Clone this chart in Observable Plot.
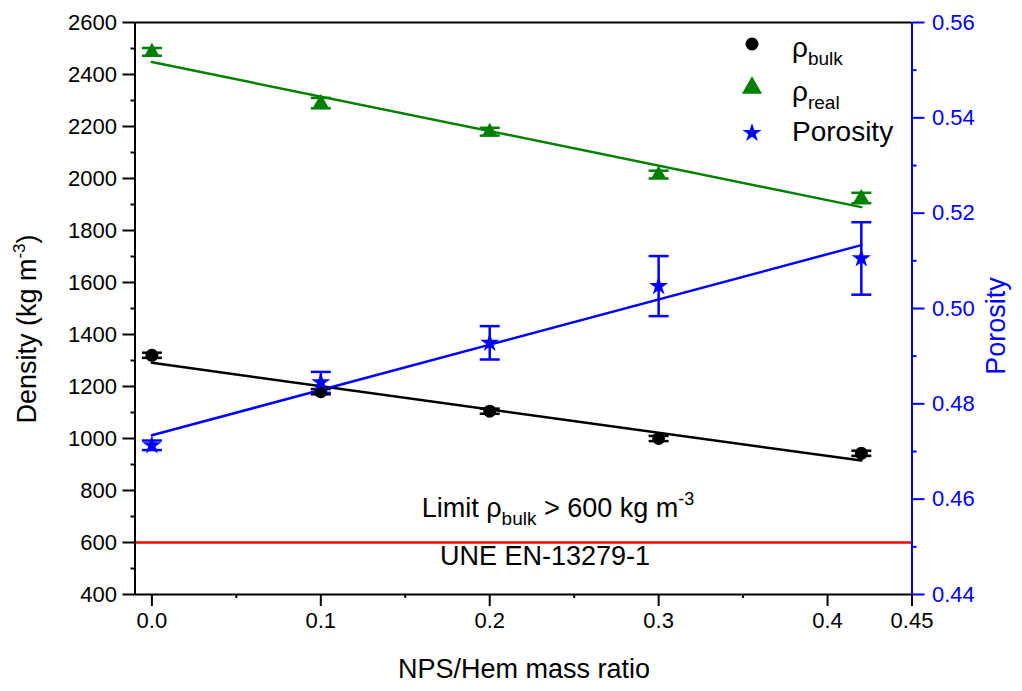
<!DOCTYPE html>
<html><head><meta charset="utf-8">
<script src="https://cdn.jsdelivr.net/npm/d3@7"></script>
<script src="https://cdn.jsdelivr.net/npm/@observablehq/plot@0.6"></script>
<style>body{margin:0;background:#fff}</style>
</head><body><div id="chart"></div>
<script>
const ratio = [0, 0.1, 0.2, 0.3, 0.42];
const rhoBulk = [1320, 1180, 1105, 1000, 943];
const rhoBulkErr = [10, 10, 10, 10, 10];
const rhoReal = [2487, 2290, 2180, 2015, 1925];
const rhoRealErr = [15, 20, 15, 15, 20];
const porosity = [0.4713, 0.4845, 0.4928, 0.5047, 0.5105];
const porosityErr = [0.001, 0.0022, 0.0035, 0.0063, 0.0076];
const fitX = [0, 0.42];
const fitBulk = [1291, 915];
const fitReal = [2448, 1890];
const fitPorosity = [0.4734, 0.5133];
const limitBulk = 600;
const xTicks = [0, 0.1, 0.2, 0.3, 0.4, 0.45];
const xTickLabels = ["0.0", "0.1", "0.2", "0.3", "0.4", "0.45"];
const xMinor = [0.05, 0.15, 0.25, 0.35];
const densityTicks = [400, 600, 800, 1000, 1200, 1400, 1600, 1800, 2000, 2200, 2400, 2600];
const densityMinor = [500, 700, 900, 1100, 1300, 1500, 1700, 1900, 2100, 2300, 2500];
const porosityTicks = [0.44, 0.46, 0.48, 0.50, 0.52, 0.54, 0.56];
const porosityMinor = [0.45, 0.47, 0.49, 0.51, 0.53, 0.55];

const dMin = 400, dMax = 2600, pMin = 0.44, pMax = 0.56;
const toD = p => dMin + (p - pMin) * (dMax - dMin) / (pMax - pMin);
const fromD = d => pMin + (d - dMin) * (pMax - pMin) / (dMax - dMin);

const pts = ratio.map((x, i) => ({
  x, bulk: rhoBulk[i], bulkE: rhoBulkErr[i], real: rhoReal[i], realE: rhoRealErr[i],
  por: toD(porosity[i]), porLo: toD(porosity[i] - porosityErr[i]), porHi: toD(porosity[i] + porosityErr[i])
}));
const fits = fitX.map((x, i) => ({x, bulk: fitBulk[i], real: fitReal[i], por: toD(fitPorosity[i])}));

const cap = {draw(ctx) { ctx.moveTo(-10, 0); ctx.lineTo(10, 0); }};
const GREEN = "#008000", BLUE = "#0000ff", BLACK = "#000000", RED = "#ff0000";

function errorMarks(y1, y2, color) {
  return [
    Plot.ruleX(pts, {x: "x", y1, y2, stroke: color, strokeWidth: 2.5}),
    Plot.dot(pts, {x: "x", y: y1, symbol: cap, stroke: color, strokeWidth: 2.5, fill: "none"}),
    Plot.dot(pts, {x: "x", y: y2, symbol: cap, stroke: color, strokeWidth: 2.5, fill: "none"})
  ];
}

const chart = Plot.plot({
  width: 1022, height: 691,
  marginLeft: 134.5, marginRight: 110.5, marginTop: 22, marginBottom: 97,
  x: {domain: [-0.01, 0.45]},
  y: {domain: [dMin, dMax]},
  style: {fontFamily: "'Liberation Sans', Arial, sans-serif", fontSize: "22px", background: "#fff", color: "#000"},
  marks: [
    Plot.ruleY([limitBulk], {stroke: RED, strokeWidth: 2.5}),
    Plot.line(fits, {x: "x", y: "real", stroke: GREEN, strokeWidth: 2.5}),
    Plot.line(fits, {x: "x", y: "bulk", stroke: BLACK, strokeWidth: 2.5}),
    Plot.line(fits, {x: "x", y: "por", stroke: BLUE, strokeWidth: 2.5}),
    ...errorMarks(d => d.real - d.realE, d => d.real + d.realE, GREEN),
    ...errorMarks(d => d.bulk - d.bulkE, d => d.bulk + d.bulkE, BLACK),
    ...errorMarks("porLo", "porHi", BLUE),
    Plot.dot(pts, {x: "x", y: "bulk", r: 6.5, fill: BLACK, symbol: "circle"}),
    Plot.dot(pts, {x: "x", y: "real", r: 5.8, fill: GREEN, symbol: "triangle"}),
    Plot.dot(pts, {x: "x", y: "por", r: 6, fill: BLUE, symbol: "star"}),
    // axis lines
    Plot.ruleX([-0.01], {stroke: BLACK, strokeWidth: 2}),
    Plot.ruleY([dMin], {stroke: BLACK, strokeWidth: 2}),
    Plot.ruleY([dMax], {stroke: BLACK, strokeWidth: 2}),
    Plot.ruleX([0.45], {stroke: BLUE, strokeWidth: 2}),
    // axes
    Plot.axisX({ticks: xTicks, tickFormat: d => xTickLabels[xTicks.indexOf(d)], tickSize: 12, tickPadding: 6, strokeWidth: 2, label: null, fontSize: 22}),
    Plot.axisX({ticks: xMinor, tickFormat: () => "", tickSize: 4, strokeWidth: 2, label: null}),
    Plot.axisY({anchor: "left", ticks: densityTicks, tickFormat: d => String(d), tickSize: 12, tickPadding: 6, strokeWidth: 2, label: null, fontSize: 22}),
    Plot.axisY({anchor: "left", ticks: densityMinor, tickFormat: () => "", tickSize: 4, strokeWidth: 2, label: null}),
    Plot.axisY({anchor: "right", ticks: porosityTicks.map(toD), tickFormat: d => fromD(d).toFixed(2), tickSize: 12, tickPadding: 8, strokeWidth: 2, color: BLUE, label: null, fontSize: 22}),
    Plot.axisY({anchor: "right", ticks: porosityMinor.map(toD), tickFormat: () => "", tickSize: 4, strokeWidth: 2, color: BLUE, label: null})
  ]
});
document.getElementById("chart").appendChild(chart);

const svg = d3.select(chart);
const ys = chart.scale("y");
const FONT = "'Liberation Sans', Arial, sans-serif";

// axis titles
svg.append("text").attr("x", 524).attr("y", 678).attr("text-anchor", "middle")
  .attr("font-family", FONT).attr("font-size", 27).attr("fill", BLACK).text("NPS/Hem mass ratio");
const dl = svg.append("text").attr("transform", "translate(36,329) rotate(-90)").attr("text-anchor", "middle")
  .attr("font-family", FONT).attr("font-size", 27).attr("fill", BLACK);
dl.append("tspan").text("Density (kg m");
dl.append("tspan").attr("font-size", 17).attr("dy", -11).text("-3");
dl.append("tspan").attr("dy", 11).text(")");
svg.append("text").attr("transform", "translate(1005,326) rotate(-90)").attr("text-anchor", "middle")
  .attr("font-family", FONT).attr("font-size", 27).attr("fill", BLUE).text("Porosity");

// limit annotation
const yl = ys.apply(limitBulk);
const lt = svg.append("text").attr("x", 558).attr("y", yl - 25).attr("text-anchor", "middle")
  .attr("font-family", FONT).attr("font-size", 27).attr("fill", BLACK);
lt.append("tspan").text("Limit ρ");
lt.append("tspan").attr("font-size", 19).attr("dy", 8).text("bulk");
lt.append("tspan").attr("dy", -8).text(" > 600 kg m");
lt.append("tspan").attr("font-size", 18).attr("dy", -12).text("-3");
svg.append("text").attr("x", 545).attr("y", yl + 23).attr("text-anchor", "middle")
  .attr("font-family", FONT).attr("font-size", 27).attr("fill", BLACK).text("UNE EN-13279-1");

// legend
const leg = [
  {sym: d3.symbolCircle, r: 6.5, color: BLACK, main: "ρ", sub: "bulk", y: 44, base: 57},
  {sym: d3.symbolTriangle, r: 7.5, color: GREEN, main: "ρ", sub: "real", y: 88, base: 101},
  {sym: d3.symbolStar, r: 6, color: BLUE, main: "Porosity", sub: null, y: 133, base: 141}
];
leg.forEach(l => {
  svg.append("path").attr("transform", `translate(752,${l.y})`)
    .attr("d", d3.symbol(l.sym, Math.PI * l.r * l.r)()).attr("fill", l.color);
  const t = svg.append("text").attr("x", 792).attr("y", l.base).attr("text-anchor", "start")
    .attr("font-family", FONT).attr("font-size", 28).attr("fill", BLACK);
  t.append("tspan").text(l.main);
  if (l.sub) t.append("tspan").attr("font-size", 19).attr("dy", 8).text(l.sub);
});
</script></body></html>
